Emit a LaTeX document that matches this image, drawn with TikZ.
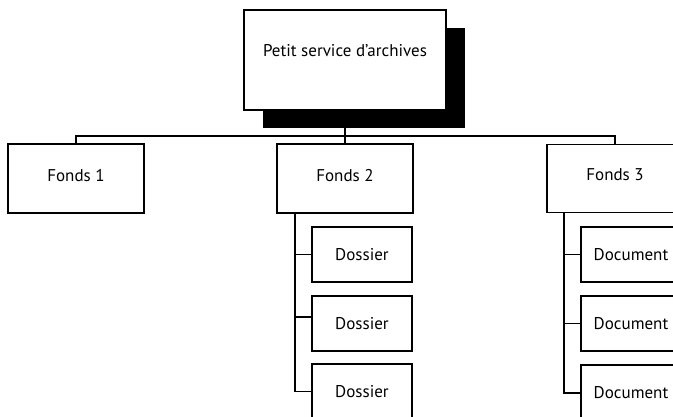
\documentclass[tikz,border=0pt]{standalone}
\usepackage{fontspec}
\setmainfont{PT Sans}
\begin{document}
\begin{tikzpicture}[x=1pt,y=-1pt,
  box/.style={draw=black, line width=1.6pt, fill=white, inner sep=0pt, font=\fontsize{17}{19}\selectfont},
  conn/.style={draw=black, line width=1.6pt}]
\useasboundingbox (0,0) rectangle (673,417);
\clip (0,0) rectangle (673,417);
% top node and shadow
\fill[black] (263,28) rectangle (465,128);
\node[box, minimum width=202pt, minimum height=100pt, text depth=20pt] (top) at (345,60) {Petit service d’archives};
% level 1
\node[box, minimum width=136pt, minimum height=69pt, text depth=7pt] (f1) at (76,178.5) {Fonds 1};
\node[box, minimum width=136pt, minimum height=69pt, text depth=7pt] (f2) at (345,178.5) {Fonds 2};
\node[box, minimum width=136pt, minimum height=68pt, text depth=7pt] (f3) at (615,178.5) {Fonds 3};
% dossiers
\node[box, minimum width=100pt, minimum height=55pt] (d1) at (362,254.5) {Dossier};
\node[box, minimum width=100pt, minimum height=55pt] (d2) at (362,323.5) {Dossier};
\node[box, minimum width=100pt, minimum height=55pt] (d3) at (362,391.5) {Dossier};
% documents
\node[box, minimum width=100pt, minimum height=55pt] (c1) at (631,254.5) {Document};
\node[box, minimum width=100pt, minimum height=55pt] (c2) at (631,323.5) {Document};
\node[box, minimum width=100pt, minimum height=55pt] (c3) at (631,392.5) {Document};
% connectors
\coordinate (bus) at (345,136);
\draw[conn] (top.south) -- (bus);
\draw[conn] (bus) -| (f1.north);
\draw[conn] (bus) -| (f3.north);
\draw[conn] (bus) -- (f2.north);
\coordinate (s2) at ([xshift=-50pt]f2.south);
\coordinate (s3) at ([xshift=-51pt]f3.south);
\draw[conn] (s2) |- (d3.west);
\draw[conn] (s2 |- d1.west) -- (d1.west);
\draw[conn] ([yshift=6.5pt]s2 |- d2.west) -- ([yshift=6.5pt]d2.west);
\draw[conn] (s3) |- ([yshift=-0.5pt]c3.west);
\draw[conn] (s3 |- c1.west) -- (c1.west);
\draw[conn] (s3 |- c2.west) -- (c2.west);
\end{tikzpicture}
\end{document}
